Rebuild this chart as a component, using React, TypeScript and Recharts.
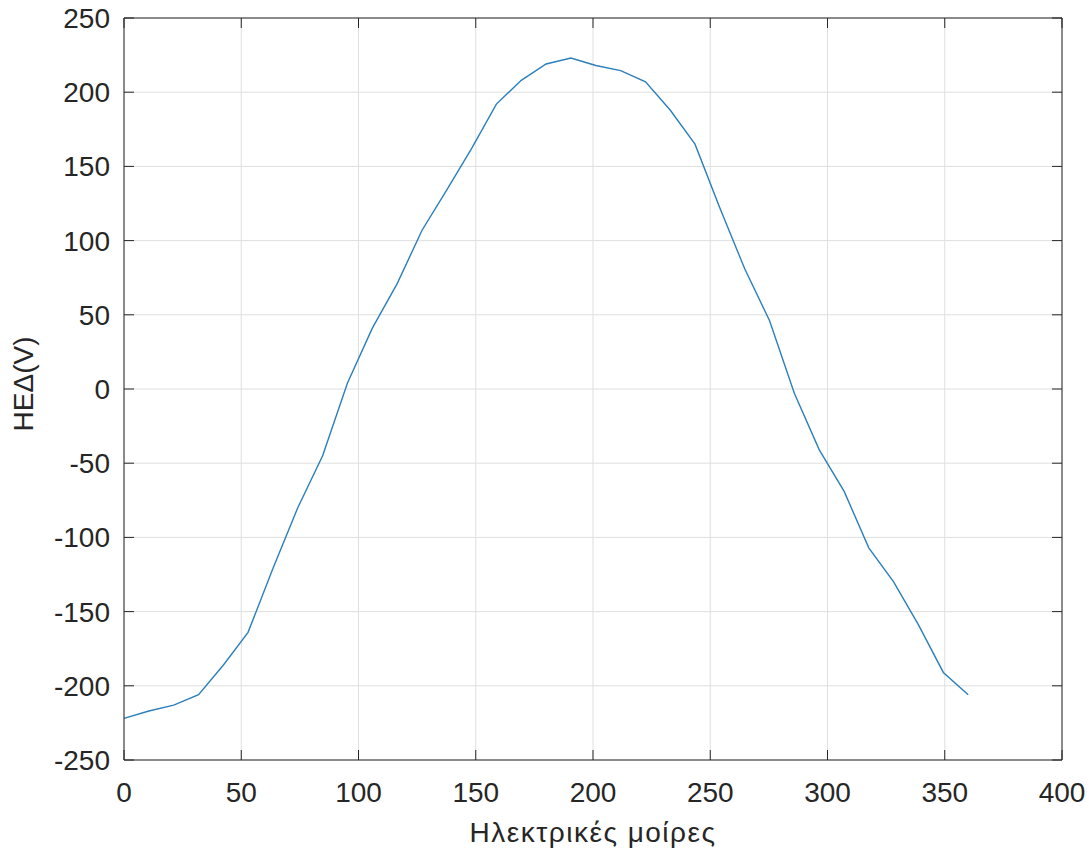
import { LineChart, Line, XAxis, YAxis, CartesianGrid } from 'recharts';

// electrical degrees (35 samples, 0..360)
const degrees = [
  0, 10.6, 21.2, 31.8, 42.4, 52.9, 63.5, 74.1, 84.7, 95.3, 105.9, 116.5, 127.1, 137.6, 148.2, 158.8, 169.4, 180,
  190.6, 201.2, 211.8, 222.4, 232.9, 243.5, 254.1, 264.7, 275.3, 285.9, 296.5, 307.1, 317.6, 328.2, 338.8, 349.4, 360,
];
// EMF in volts
const emf = [
  -222, -217, -213, -206, -186, -164, -121, -80, -45, 4, 41, 71, 107, 134, 162, 192, 208, 219,
  223, 218, 214.5, 207, 188, 165, 122, 81, 46, -3, -41, -69, -107, -130, -159, -191, -206,
];
const xTicks = [0, 50, 100, 150, 200, 250, 300, 350, 400];
const yTicks = [-250, -200, -150, -100, -50, 0, 50, 100, 150, 200, 250];

const chartData = degrees.map((d, i) => ({ deg: d, v: emf[i] }));

const W = 1089;
const H = 852;
const LEFT = 124;
const TOP = 18;
const RIGHT = 1062;
const BOTTOM = 760;
const TICK = 10;
const FONT = '"Liberation Sans", Arial, Helvetica, sans-serif';
const INK = '#262626';

const bottomTick = ({ x, payload }: any) => (
  <text x={x} y={BOTTOM + 42} textAnchor="middle" fontSize={28} fill={INK} fontFamily={FONT}>
    {payload.value}
  </text>
);

const leftTick = ({ y, payload }: any) => (
  <text x={LEFT - 14} y={y + 10} textAnchor="end" fontSize={28} fill={INK} fontFamily={FONT}>
    {payload.value}
  </text>
);

const noTick = () => <g />;

export default function App() {
  return (
    <div style={{ position: 'absolute', left: 0, top: 0, width: W, height: H, background: '#fff' }}>
      <LineChart
        width={W}
        height={H}
        data={chartData}
        margin={{ top: TOP - 1, right: W - RIGHT - 1, bottom: H - BOTTOM - 40, left: LEFT - 60 }}
      >
        <CartesianGrid
          xAxisId="b"
          yAxisId="l"
          stroke="#dfdfdf"
          strokeWidth={1}
          horizontalValues={yTicks}
          verticalValues={xTicks}
        />
        <XAxis
          xAxisId="b"
          dataKey="deg"
          type="number"
          domain={[0, 400]}
          ticks={xTicks}
          height={40}
          tickSize={-TICK}
          tickLine={{ stroke: INK }}
          axisLine={{ stroke: INK }}
          tick={bottomTick}
          interval={0}
        />
        <XAxis
          xAxisId="t"
          dataKey="deg"
          orientation="top"
          type="number"
          domain={[0, 400]}
          ticks={xTicks}
          height={1}
          tickSize={-TICK}
          tickLine={{ stroke: INK }}
          axisLine={{ stroke: INK }}
          tick={noTick}
          interval={0}
        />
        <YAxis
          yAxisId="l"
          type="number"
          domain={[-250, 250]}
          ticks={yTicks}
          width={60}
          tickSize={-TICK}
          tickLine={{ stroke: INK }}
          axisLine={{ stroke: INK }}
          tick={leftTick}
          interval={0}
        />
        <YAxis
          yAxisId="r"
          orientation="right"
          type="number"
          domain={[-250, 250]}
          ticks={yTicks}
          width={1}
          tickSize={-TICK}
          tickLine={{ stroke: INK }}
          axisLine={{ stroke: INK }}
          tick={noTick}
          interval={0}
        />
        <Line
          xAxisId="t"
          yAxisId="r"
          type="linear"
          dataKey="v"
          stroke="none"
          dot={false}
          activeDot={false}
          isAnimationActive={false}
        />
        <Line
          xAxisId="b"
          yAxisId="l"
          type="linear"
          dataKey="v"
          stroke="#2b7fbb"
          strokeWidth={1.4}
          dot={false}
          isAnimationActive={false}
        />
      </LineChart>
      <svg
        width={W}
        height={H}
        style={{ position: 'absolute', left: 0, top: 0, pointerEvents: 'none' }}
      >
        <text
          x={593}
          y={842}
          textAnchor="middle"
          fontSize={28}
          letterSpacing={1.5}
          fill={INK}
          fontFamily={FONT}
        >
          Ηλεκτρικές μοίρες
        </text>
        <text
          x={33}
          y={384}
          textAnchor="middle"
          fontSize={28}
          fill={INK}
          fontFamily={FONT}
          transform="rotate(-90 33 384)"
        >
          ΗΕΔ(V)
        </text>
      </svg>
    </div>
  );
}
